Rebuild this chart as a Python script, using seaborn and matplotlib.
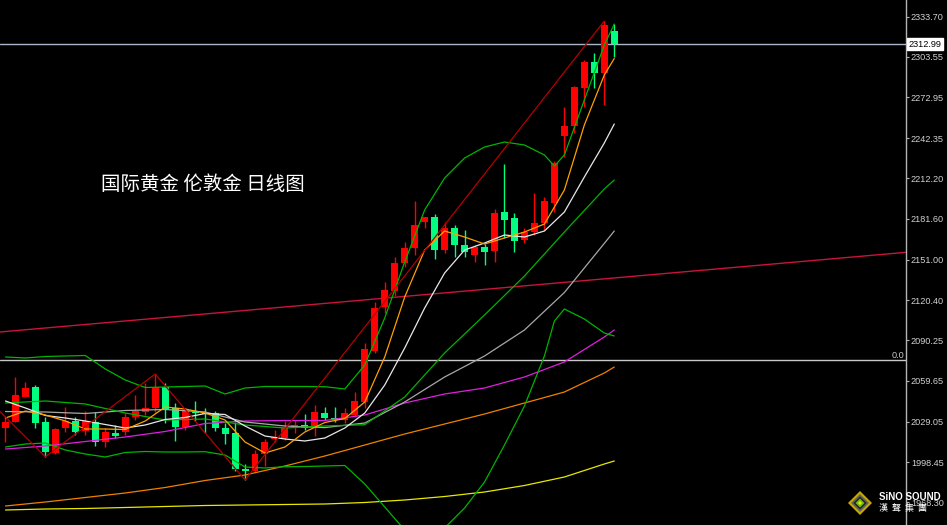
import matplotlib
matplotlib.use("Agg")
import matplotlib.pyplot as plt
from matplotlib.patches import Polygon
import seaborn as sns
import numpy as np
import pandas as pd

# 日K线数据
opens = [2024.02, 2028.99, 2047.80, 2055.32, 2028.99, 2005.67, 2024.02, 2029.74, 2021.99, 2028.99,
         2013.94, 2020.71, 2021.47, 2032.75, 2036.51, 2039.07, 2055.32, 2039.07, 2024.78, 2036.66,
         2035.91, 2035.16, 2024.02, 2020.26, 1993.40, 1991.90, 2004.69, 2015.75, 2016.50, 2024.78,
         2026.51, 2025.38, 2035.31, 2031.55, 2030.27, 2034.03, 2044.04, 2082.41, 2115.06, 2127.32,
         2148.61, 2159.45, 2179.01, 2182.77, 2158.17, 2174.50, 2161.93, 2154.41, 2160.65, 2157.64,
         2186.98, 2182.02, 2165.69, 2171.94, 2178.26, 2193.76, 2243.94, 2251.46, 2280.28, 2299.61,
         2291.11, 2322.94]
highs = [2033.28, 2062.85, 2058.86, 2056.60, 2032.75, 2024.25, 2040.05, 2032.75, 2037.27, 2036.51,
         2024.02, 2026.51, 2035.76, 2049.08, 2057.88, 2064.88, 2057.88, 2043.06, 2039.67, 2044.34,
         2039.30, 2037.04, 2027.79, 2028.99, 1996.79, 2007.70, 2015.60, 2023.12, 2029.52, 2030.64,
         2035.01, 2041.78, 2039.82, 2040.05, 2039.07, 2051.33, 2088.43, 2119.27, 2134.32, 2153.13,
         2164.41, 2195.26, 2183.22, 2185.25, 2179.46, 2176.98, 2173.22, 2161.93, 2162.68, 2188.79,
         2222.87, 2186.23, 2174.50, 2200.83, 2198.27, 2225.36, 2265.98, 2281.56, 2301.12, 2306.16,
         2330.46, 2328.20]
lows = [2013.72, 2028.76, 2047.20, 2024.25, 2002.66, 2005.06, 2021.47, 2018.98, 2018.98, 2010.71,
        2009.73, 2016.50, 2018.98, 2030.27, 2034.03, 2036.51, 2027.79, 2014.69, 2022.74, 2029.89,
        2020.49, 2021.62, 2011.99, 1991.90, 1985.13, 1991.15, 1995.66, 2013.72, 2015.22, 2020.26,
        2022.74, 2018.23, 2030.27, 2028.76, 2027.79, 2032.90, 2039.30, 2080.68, 2110.77, 2123.56,
        2145.15, 2154.41, 2174.50, 2151.17, 2155.69, 2153.13, 2153.13, 2149.14, 2146.88, 2149.37,
        2166.97, 2156.89, 2163.21, 2169.46, 2173.22, 2186.98, 2228.36, 2246.42, 2265.98, 2279.83,
        2267.26, 2303.60]
closes = [2028.99, 2049.08, 2054.57, 2028.24, 2006.42, 2023.27, 2029.52, 2021.47, 2029.52, 2013.94,
          2021.47, 2018.46, 2032.75, 2037.27, 2039.52, 2055.32, 2038.32, 2025.23, 2037.04, 2035.31,
          2034.78, 2024.48, 2020.11, 1993.18, 1992.27, 2004.69, 2013.94, 2017.85, 2024.02, 2026.51,
          2024.48, 2036.51, 2031.55, 2030.27, 2035.16, 2044.56, 2083.46, 2114.31, 2128.08, 2148.16,
          2159.90, 2176.98, 2182.77, 2158.17, 2174.50, 2161.93, 2156.89, 2160.65, 2156.89, 2186.23,
          2180.74, 2165.17, 2171.94, 2178.71, 2195.26, 2223.85, 2251.46, 2280.58, 2299.84, 2291.11,
          2327.45, 2312.99]

# 均线（从图上读出的采样点）
fast_idx = list(range(0, 61, 2)) + [61]
ma5 = [2031.77, 2037.04, 2034.03, 2029.52, 2023.50, 2023.50, 2023.12, 2029.52, 2040.05, 2038.54,
       2035.54, 2030.27, 2013.72, 2005.44, 2009.96, 2021.24, 2028.39, 2031.40, 2043.81, 2077.67,
       2122.81, 2158.17, 2172.46, 2167.95, 2162.68, 2167.20, 2171.71, 2177.73, 2203.31, 2252.21,
       2289.83, 2302.25]
ma10 = [2044.56, 2039.30, 2033.65, 2031.77, 2029.52, 2026.88, 2024.25, 2026.51, 2030.65, 2032.15,
        2035.16, 2034.41, 2025.75, 2018.23, 2015.97, 2014.47, 2016.73, 2024.25, 2035.54, 2056.60,
        2084.44, 2114.53, 2140.87, 2158.17, 2163.44, 2169.46, 2167.95, 2172.46, 2186.76, 2213.09,
        2238.67, 2252.97]

# 布林带上下轨
band_idx = list(range(0, 55, 2)) + [55, 56, 58, 60, 61]
boll_up = [2077.67, 2076.92, 2078.04, 2078.42, 2078.80, 2068.64, 2060.36, 2054.72, 2055.10, 2055.47,
           2055.85, 2049.83, 2054.34, 2055.47, 2055.47, 2055.47, 2055.32, 2053.59, 2071.65, 2107.01,
           2149.14, 2188.26, 2212.34, 2227.39, 2235.66, 2239.42, 2237.17, 2229.64, 2221.37, 2229.64,
           2271.02, 2312.40, 2328.20]
boll_dn = [2009.96, 2012.21, 2012.96, 2007.70, 2004.69, 2002.43, 2005.82, 2006.57, 2006.19, 2006.19,
           2006.42, 2003.94, 1994.91, 1994.16, 1995.13, 1995.28, 1995.66, 1996.04, 1982.12, 1964.81,
           1947.51, 1939.99, 1949.01, 1964.06, 1983.62, 2011.46, 2040.80, 2078.42, 2104.75, 2113.78,
           2106.26, 2095.72, 2093.47]

slow_idx = list(range(0, 61, 4)) + [61]
ma20 = [2043.06, 2044.56, 2042.31, 2035.54, 2030.27, 2031.02, 2026.51, 2024.25, 2025.75, 2026.73,
        2047.57, 2080.68, 2109.26, 2138.61, 2171.71, 2204.06, 2210.84]
ma30 = [2036.66, 2036.29, 2035.16, 2037.42, 2038.17, 2036.29, 2028.76, 2025.75, 2024.55, 2028.01,
        2043.81, 2062.62, 2078.42, 2097.98, 2126.19, 2163.14, 2172.46]
ma60 = [2008.45, 2010.71, 2014.09, 2017.48, 2021.62, 2027.64, 2029.52, 2029.89, 2029.89, 2034.03,
        2043.06, 2049.83, 2054.34, 2062.62, 2073.91, 2092.71, 2097.98]
ma120 = [1965.57, 1968.58, 1971.96, 1975.35, 1979.48, 1984.75, 1988.89, 1995.66, 2003.18, 2011.46,
         2019.74, 2027.26, 2034.78, 2043.06, 2051.33, 2065.63, 2070.14]
ma200 = [1962.56, 1963.31, 1963.69, 1964.44, 1965.19, 1965.94, 1966.32, 1966.69, 1967.07, 1968.20,
         1970.08, 1972.71, 1976.10, 1980.99, 1987.38, 1997.16, 1999.42]

# 之字转向点、趋势线、水平线
zz_idx = [-1, 4, 15, 24, 60]
zz_val = [2040.05, 2002.66, 2064.88, 1985.13, 2330.46]
trend_pts = [(0, 2096.85), (61, 2137.13)]
level_line = 2075.41
last_price = 2312.99

price_ticks = [2333.70, 2303.55, 2272.95, 2242.35, 2212.20, 2181.60, 2151.00,
               2120.40, 2090.25, 2059.65, 2029.05, 1998.45, 1968.30]

sns.set_theme(style="dark")
plt.rcParams['font.family'] = ['Liberation Sans', 'DejaVu Sans']

fig = plt.figure(figsize=(9.47, 5.25), dpi=100)
fig.patch.set_facecolor('black')
ax = fig.add_axes([0, 0, 906 / 947, 1])
ax.set_facecolor('black')

df = pd.DataFrame({'o': opens, 'h': highs, 'l': lows, 'c': closes})
df['i'] = np.arange(len(df))
up = df['c'] >= df['o']
col = np.where(up, '#FF0000', '#00FF80')
body = (df['c'] - df['o']).abs().clip(lower=0.8)
bottom = df[['o', 'c']].min(axis=1)

# 水平线
ax.axhline(level_line, color='#C8C8C8', lw=1.0, zorder=1)
ax.axhline(last_price, color='#A8B8C8', lw=1.0, zorder=1)
# 趋势线
ax.axline(trend_pts[0], trend_pts[1], color='#C8143C', lw=1.0, zorder=1)

# K线
ax.vlines(df['i'], df['l'], df['h'], colors=col, lw=1.0, zorder=3)
ax.bar(df['i'], body, bottom=bottom, width=0.7, color=col, linewidth=0, zorder=3)

# 均线
def draw(idx, vals, color, lw=0.9, z=4):
    d = pd.DataFrame({'x': idx, 'y': vals})
    sns.lineplot(data=d, x='x', y='y', ax=ax, color=color, lw=lw,
                 estimator=None, sort=False, legend=False, zorder=z)

draw(slow_idx, ma200, '#E8E800')
draw(slow_idx, ma120, '#F08000')
draw(slow_idx, ma60, '#E020E0')
draw(slow_idx, ma30, '#A8A8A8')
draw(band_idx, boll_dn, '#00B400')
draw(band_idx, boll_up, '#00B400')
draw(slow_idx, ma20, '#00B400')
draw(fast_idx, ma10, '#E8E8E8')
draw(fast_idx, ma5, '#FFA000')
draw(zz_idx, zz_val, '#B40000')

ax.set_xlim(-0.55, 90.23)
ax.set_ylim(1951.27, 2346.26)
ax.set_xlabel('')
ax.set_ylabel('')
ax.set_xticks([])
ax.grid(False)

ax.yaxis.tick_right()
ax.set_yticks(price_ticks)
ax.set_yticklabels(['%.2f' % v for v in price_ticks])
ax.tick_params(axis='y', direction='out', length=2.5, width=0.8, color='#B4B4B4',
               pad=1, labelsize=6.6, labelcolor='#D0D0D0')
for s in ['top', 'left', 'bottom']:
    ax.spines[s].set_visible(False)
ax.spines['right'].set_color('#B4B4B4')
ax.spines['right'].set_linewidth(1.0)

# 现价标签
ax.text(1.003, last_price, '%.2f' % last_price, transform=ax.get_yaxis_transform(),
        ha='left', va='center', fontsize=6.6, color='black', zorder=6, clip_on=False,
        bbox=dict(boxstyle='square,pad=0.15', fc='white', ec='white'))
ax.text(0.998, level_line, '0.0', transform=ax.get_yaxis_transform(),
        ha='right', va='bottom', fontsize=6.6, color='#C8C8C8')

# 标题
fig.text(101 / 947, 1 - 184 / 525, '国际黄金 伦敦金 日线图', fontsize=14, color='white',
         family=['Noto Sans CJK SC', 'DejaVu Sans'], va='center', ha='left')

# 水印 logo
cx, cy = 860 / 947, 1 - 503 / 525
def diamond(r, color):
    rx, ry = r / 947, r / 525
    fig.patches.append(Polygon([(cx - rx, cy), (cx, cy + ry), (cx + rx, cy), (cx, cy - ry)],
                               closed=True, transform=fig.transFigure, fc=color, ec='none',
                               zorder=10))
diamond(12, '#C8A800')
diamond(9, '#606060')
diamond(6.5, '#202020')
diamond(4.5, '#70C000')
diamond(2, '#E8E800')
fig.text(879 / 947, 1 - 497 / 525, 'SiNO SOUND', fontsize=7, fontweight='bold', color='white',
         va='center', ha='left', zorder=11)
fig.text(879 / 947, 1 - 508 / 525, '漢  聲  集  團', fontsize=6.5, color='white',
         family=['Noto Sans CJK TC', 'DejaVu Sans'], va='center', ha='left', zorder=11)

fig.savefig('out.png', dpi=100, facecolor='black')
